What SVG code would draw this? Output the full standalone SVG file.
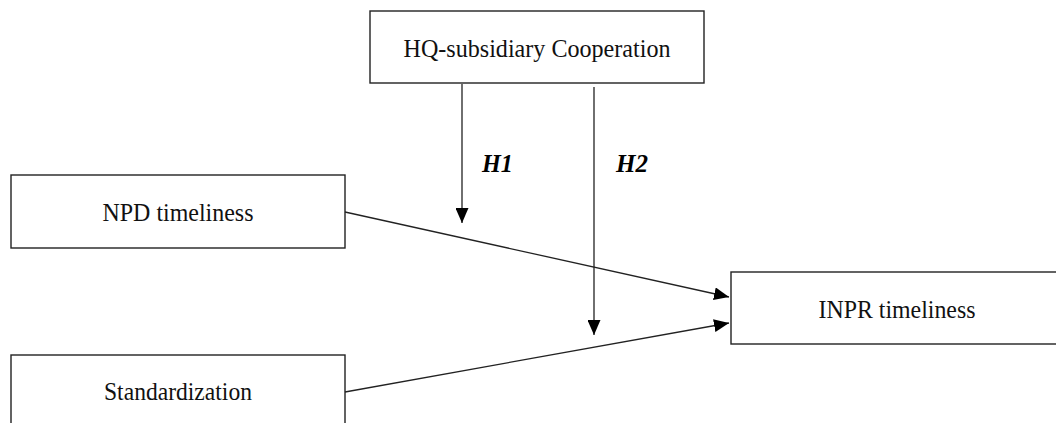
<svg xmlns="http://www.w3.org/2000/svg" width="1056" height="423" viewBox="0 0 1056 423">
<style>
.box{fill:#fff;stroke:#222;stroke-width:1.4}
.lbl{font-family:"Liberation Serif","Times New Roman",serif;font-size:25px;fill:#111;text-anchor:middle}
.h{font-family:"Liberation Serif","Times New Roman",serif;font-size:25px;font-weight:bold;font-style:italic;fill:#000}
.edge{stroke:#222;stroke-width:1.3;fill:none}
</style>
<defs>
<marker id="arr" markerWidth="15" markerHeight="13" refX="15" refY="6.5" orient="auto" markerUnits="userSpaceOnUse">
<path d="M0,0 L15,6.5 L0,13 Z" fill="#000"/>
</marker>
</defs>
<rect width="1056" height="423" fill="#fff"/>
<g id="hq">
<rect class="box" x="370" y="11" width="334" height="72"/>
<text class="lbl" x="537" y="57" textLength="267" lengthAdjust="spacingAndGlyphs">HQ-subsidiary Cooperation</text>
</g>
<g id="npd">
<rect class="box" x="11" y="175" width="334" height="73"/>
<text class="lbl" x="178" y="221" textLength="151" lengthAdjust="spacingAndGlyphs">NPD timeliness</text>
</g>
<g id="std">
<rect class="box" x="11" y="355" width="334" height="80"/>
<text class="lbl" x="178" y="400" textLength="148" lengthAdjust="spacingAndGlyphs">Standardization</text>
</g>
<g id="inpr">
<rect class="box" x="731" y="272" width="340" height="72"/>
<text class="lbl" x="897" y="318" textLength="157" lengthAdjust="spacingAndGlyphs">INPR timeliness</text>
</g>
<g id="connectors">
<line class="edge" x1="462" y1="84" x2="462" y2="223" marker-end="url(#arr)"/>
<line class="edge" x1="594" y1="87" x2="594" y2="335" marker-end="url(#arr)"/>
<line class="edge" x1="345" y1="212" x2="729" y2="297" marker-end="url(#arr)"/>
<line class="edge" x1="345" y1="392" x2="729" y2="323" marker-end="url(#arr)"/>
<text class="h" x="482" y="172" textLength="31" lengthAdjust="spacingAndGlyphs">H1</text>
<text class="h" x="616" y="172" textLength="32" lengthAdjust="spacingAndGlyphs">H2</text>
</g>
</svg>
